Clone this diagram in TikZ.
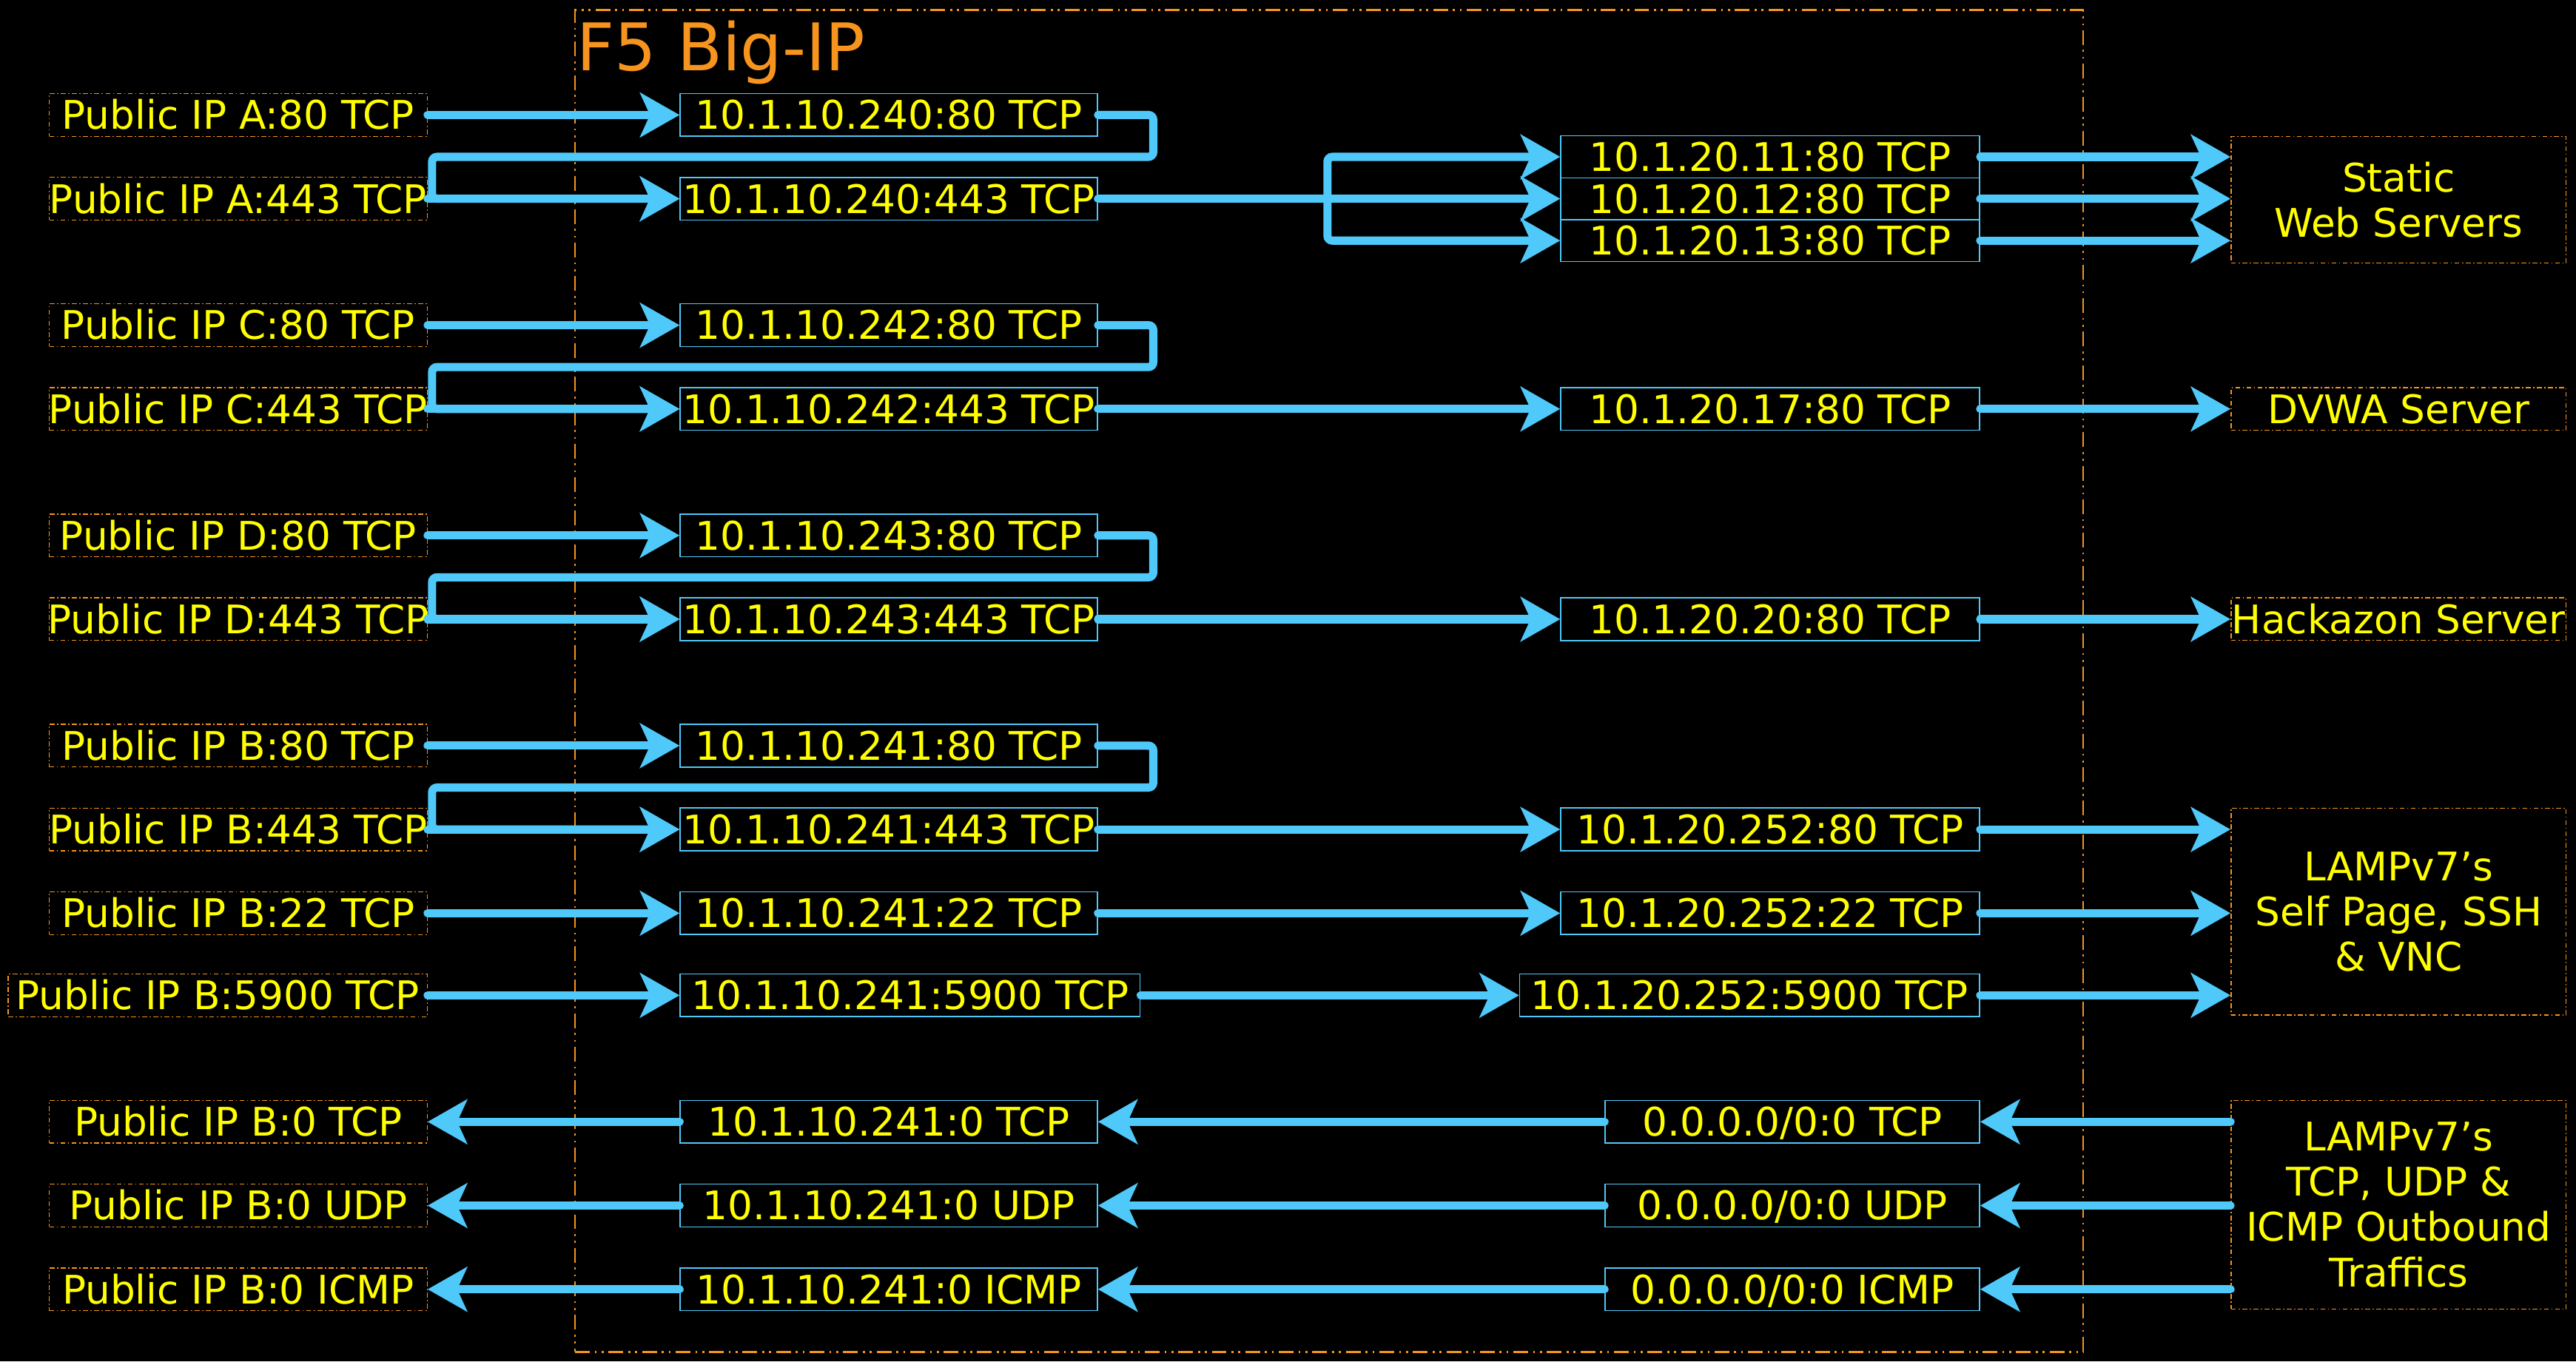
\documentclass[tikz,border=0pt]{standalone}
\usepackage{fontspec}
\setmainfont{DejaVu Sans}
\usetikzlibrary{arrows.meta}
\definecolor{arr}{HTML}{4FC8FA}
\definecolor{ylw}{HTML}{FFFF00}
\definecolor{org}{HTML}{F7941D}
\begin{document}
\begin{tikzpicture}[x=1pt,y=-1pt,
  txt/.style={text=ylw, font=\fontsize{24}{27.5}\selectfont, inner sep=0pt, text height=17.5pt, text depth=0pt, minimum height=26pt},
  pub/.style={txt, draw=org, line width=0.6pt, dash pattern=on 3pt off 1.5pt on 0.8pt off 1.5pt, minimum width=230pt},
  vip/.style={txt, draw=arr, line width=0.7pt, minimum width=254pt},
  rip/.style={txt, draw=arr, line width=0.7pt, minimum width=255pt},
  srv/.style={text=ylw, font=\fontsize{24}{27.5}\selectfont, inner sep=0pt, align=center, draw=org, line width=0.6pt, dash pattern=on 3pt off 1.5pt on 0.8pt off 1.5pt, minimum width=204pt},
  flow/.style={draw=arr, line width=5pt, line cap=round, -{Stealth[length=24pt,width=27pt,inset=6pt]}},
  bigbox/.style={draw=org, line width=1.3pt, dash pattern=on 9pt off 3pt on 1.2pt off 3pt on 1.2pt off 3pt, inner sep=0pt}
]
\fill[black] (0,0) rectangle (1568,829);
\useasboundingbox (0,0) rectangle (1568,829);

% F5 box
\node[bigbox, minimum width=918pt, minimum height=817pt] (f5) at (809,414.5) {};
\node[text=org, font=\fontsize{40}{40}\selectfont, anchor=base west, inner sep=0pt] (title) at (351,43) {F5 Big-IP};

% left public boxes
\node[pub] (pa80) at (145,70) {Public IP A:80 TCP};
\node[pub] (pa443) at (145,121) {\makebox[228pt]{Public IP A:443 TCP}};
\node[pub] (pc80) at (145,198) {Public IP C:80 TCP};
\node[pub] (pc443) at (145,249) {\makebox[228pt]{Public IP C:443 TCP}};
\node[pub] (pd80) at (145,326) {Public IP D:80 TCP};
\node[pub] (pd443) at (145,377) {\makebox[228pt]{Public IP D:443 TCP}};
\node[pub] (pb80) at (145,454) {Public IP B:80 TCP};
\node[pub] (pb443) at (145,505) {\makebox[228pt]{Public IP B:443 TCP}};
\node[pub] (pb22) at (145,556) {Public IP B:22 TCP};
\node[pub, minimum width=255pt] (pb5900) at (132.5,606) {Public IP B:5900 TCP};
\node[pub] (pb0t) at (145,683) {Public IP B:0 TCP};
\node[pub] (pb0u) at (145,734) {Public IP B:0 UDP};
\node[pub] (pb0i) at (145,785) {Public IP B:0 ICMP};

% virtual servers
\node[vip] (m240a) at (541,70) {10.1.10.240:80 TCP};
\node[vip] (m240b) at (541,121) {10.1.10.240:443 TCP};
\node[vip] (m242a) at (541,198) {10.1.10.242:80 TCP};
\node[vip] (m242b) at (541,249) {10.1.10.242:443 TCP};
\node[vip] (m243a) at (541,326) {10.1.10.243:80 TCP};
\node[vip] (m243b) at (541,377) {10.1.10.243:443 TCP};
\node[vip] (m241a) at (541,454) {10.1.10.241:80 TCP};
\node[vip] (m241b) at (541,505) {10.1.10.241:443 TCP};
\node[vip] (m241c) at (541,556) {10.1.10.241:22 TCP};
\node[vip, minimum width=280pt] (m241d) at (554,606) {10.1.10.241:5900 TCP};
\node[vip] (m241t) at (541,683) {10.1.10.241:0 TCP};
\node[vip] (m241u) at (541,734) {10.1.10.241:0 UDP};
\node[vip] (m241i) at (541,785) {10.1.10.241:0 ICMP};

% pool members
\node[rip, minimum height=25.5pt] (r11) at (1077.5,95.5) {10.1.20.11:80 TCP};
\node[rip, minimum height=25.5pt] (r12) at (1077.5,121) {10.1.20.12:80 TCP};
\node[rip, minimum height=25.5pt] (r13) at (1077.5,146.5) {10.1.20.13:80 TCP};
\node[rip] (r17) at (1077.5,249) {10.1.20.17:80 TCP};
\node[rip] (r20) at (1077.5,377) {10.1.20.20:80 TCP};
\node[rip] (r252a) at (1077.5,505) {10.1.20.252:80 TCP};
\node[rip] (r252b) at (1077.5,556) {10.1.20.252:22 TCP};
\node[rip, minimum width=280pt] (r252c) at (1065,606) {10.1.20.252:5900 TCP};
\node[rip, minimum width=228pt] (z0t) at (1091,683) {0.0.0.0/0:0 TCP};
\node[rip, minimum width=228pt] (z0u) at (1091,734) {0.0.0.0/0:0 UDP};
\node[rip, minimum width=228pt] (z0i) at (1091,785) {0.0.0.0/0:0 ICMP};

% servers
\node[srv, minimum height=77pt] (sweb) at (1460,121.5) {Static\\Web Servers};
\node[srv, minimum height=26pt, text height=17.5pt, text depth=0pt] (dvwa) at (1460,249) {DVWA Server};
\node[srv, minimum height=26pt, text height=17.5pt, text depth=0pt] (hack) at (1460,377) {Hackazon Server};
\node[srv, minimum height=126pt] (lamp1) at (1460,555) {LAMPv7’s\\Self Page, SSH\\\& VNC};
\node[srv, minimum height=127pt] (lamp2) at (1460,733.5) {LAMPv7’s\\TCP, UDP \&\\ICMP Outbound\\Traffics};

% inbound: public -> virtual
\foreach \p/\m in {pa80/m240a, pa443/m240b, pc80/m242a, pc443/m242b, pd80/m243a, pd443/m243b, pb80/m241a, pb443/m241b, pb22/m241c, pb5900/m241d}
  \draw[flow] (\p.east) -- (\m.west);

% http -> https redirect loops
\draw[flow, rounded corners=3pt] (m240a.east) -- (702,70) -- (702,95.5) -- (263,95.5) -- (263,121) -- (m240b.west);
\draw[flow, rounded corners=3pt] (m242a.east) -- (702,198) -- (702,223.5) -- (263,223.5) -- (263,249) -- (m242b.west);
\draw[flow, rounded corners=3pt] (m243a.east) -- (702,326) -- (702,351.5) -- (263,351.5) -- (263,377) -- (m243b.west);
\draw[flow, rounded corners=3pt] (m241a.east) -- (702,454) -- (702,479.5) -- (263,479.5) -- (263,505) -- (m241b.west);

% virtual -> pool
\coordinate (s1) at (808,121);
\draw[flow] (m240b.east) -- (r12.west);
\draw[flow, rounded corners=3pt] (s1) |- (r11.west);
\draw[flow, rounded corners=3pt] (s1) |- (r13.west);
\draw[flow] (m242b.east) -- (r17.west);
\draw[flow] (m243b.east) -- (r20.west);
\draw[flow] (m241b.east) -- (r252a.west);
\draw[flow] (m241c.east) -- (r252b.west);
\draw[flow] (m241d.east) -- (r252c.west);

% pool -> servers
\draw[flow] (r11.east) -- (r11.east -| sweb.west);
\draw[flow] (r12.east) -- (r12.east -| sweb.west);
\draw[flow] (r13.east) -- (r13.east -| sweb.west);
\draw[flow] (r17.east) -- (dvwa.west);
\draw[flow] (r20.east) -- (hack.west);
\draw[flow] (r252a.east) -- (r252a.east -| lamp1.west);
\draw[flow] (r252b.east) -- (r252b.east -| lamp1.west);
\draw[flow] (r252c.east) -- (r252c.east -| lamp1.west);

% outbound
\foreach \z/\m/\p in {z0t/m241t/pb0t, z0u/m241u/pb0u, z0i/m241i/pb0i} {
  \draw[flow] (\z.east -| lamp2.west) -- (\z.east);
  \draw[flow] (\z.west) -- (\m.east);
  \draw[flow] (\m.west) -- (\p.east);
}
\end{tikzpicture}
\end{document}
